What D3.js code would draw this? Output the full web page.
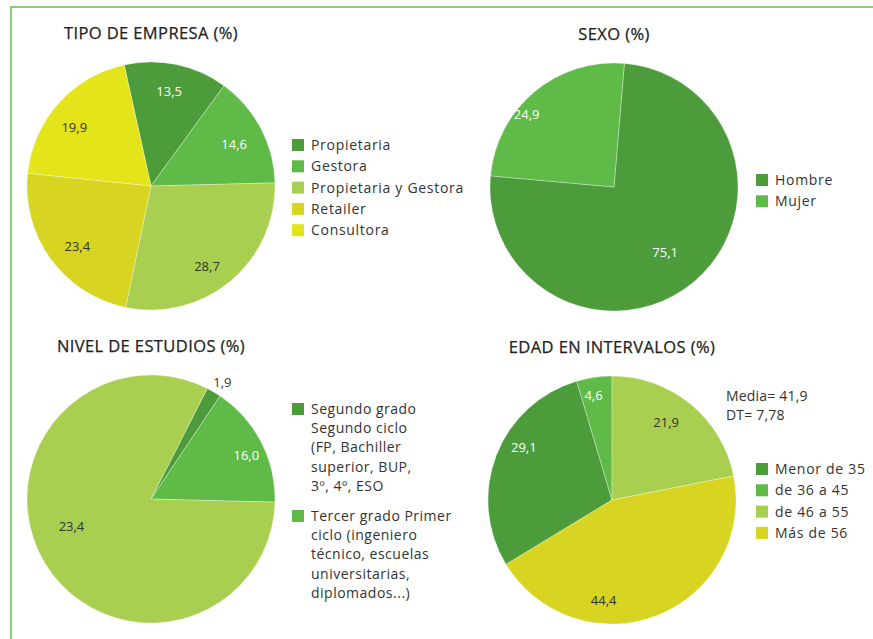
<!DOCTYPE html>
<html lang="es">
<head>
<meta charset="utf-8">
<script src="https://cdn.jsdelivr.net/npm/d3@7"></script>
<style>
  html, body { margin: 0; padding: 0; background: #fff; }
  svg { display: block; font-family: "Open Sans", Roboto, sans-serif; }
</style>
</head>
<body>
<svg id="chart" width="873" height="639"></svg>
<script>
// ---- Data ----
const empresaCategories = ["Propietaria", "Gestora", "Propietaria y Gestora", "Retailer", "Consultora"];
const empresaValues = [13.5, 14.6, 28.7, 23.4, 19.9];

const sexoCategories = ["Hombre", "Mujer"];
const sexoValues = [75.1, 24.9];

const estudiosCategories = [
  "Segundo grado Segundo ciclo (FP, Bachiller superior, BUP, 3º, 4º, ESO",
  "Tercer grado Primer ciclo (ingeniero técnico, escuelas universitarias, diplomados...)",
  null
];
const estudiosValues = [1.9, 16.0, 82.1];
const estudiosPrinted = ["1,9", "16,0", "23,4"];

const edadCategories = ["Menor de 35", "de 36 a 45", "de 46 a 55", "Más de 56"];
const edadValues = [29.1, 4.6, 21.9, 44.4];
const edadStats = ["Media= 41,9", "DT= 7,78"];

const titles = ["TIPO DE EMPRESA (%)", "SEXO (%)", "NIVEL DE ESTUDIOS (%)", "EDAD EN INTERVALOS (%)"];

// ---- Palette ----
const C = {
  dark: "#4c9c3b",
  mid: "#5fba47",
  light: "#a8cf50",
  olive: "#d7d422",
  yellow: "#e3e419",
  text: "#333333",
  frame: "#86cf72"
};

const fmt = v => d3.format(".1f")(v).replace(".", ",");

const svg = d3.select("#chart");

// frame lines
svg.append("line").attr("x1", 11).attr("x2", 11).attr("y1", 7).attr("y2", 639)
  .attr("stroke", C.frame).attr("stroke-width", 2);
svg.append("line").attr("x1", 10).attr("x2", 873).attr("y1", 7).attr("y2", 7)
  .attr("stroke", C.frame).attr("stroke-width", 2);

const R = 124;

// label placement per slice: radius and angular nudge (degrees)
const charts = [
  {
    title: titles[0], cx: 151, cy: 186, start: -12.5,
    values: empresaValues, cats: empresaCategories,
    colors: [C.dark, C.mid, C.light, C.olive, C.yellow],
    labelText: empresaValues.map(fmt),
    labelColor: ["#fff", "#fff", C.text, C.text, C.text],
    labelPos: [[97, -1], [93, 1], [98, 5], [95, -3], [97, -4]],
    legend: { x: 292, y: 145, step: 21.3 }
  },
  {
    title: titles[1], cx: 614, cy: 187, start: 4.8,
    values: sexoValues, cats: sexoCategories,
    colors: [C.dark, C.mid],
    labelText: sexoValues.map(fmt),
    labelColor: ["#fff", "#fff"],
    labelPos: [[83, 2], [114, -10]],
    legend: { x: 756, y: 180, step: 21.3 }
  },
  {
    title: titles[2], cx: 151, cy: 499, start: 27,
    values: estudiosValues, cats: estudiosCategories,
    colors: [C.dark, C.mid, C.light],
    labelText: estudiosPrinted,
    labelColor: [C.text, "#fff", C.text],
    labelPos: [[137, 1], [105, 2.5], [84, 12]],
    legend: null
  },
  {
    title: titles[3], cx: 612, cy: 500, start: -121.3,
    values: edadValues, cats: edadCategories,
    colors: [C.dark, C.mid, C.light, C.olive],
    labelText: edadValues.map(fmt),
    labelColor: ["#fff", "#fff", C.text, C.text],
    labelPos: [[103, 10], [107, -1.7], [95, -4.7], [100, 26]],
    legend: { x: 756, y: 469, step: 21.3 }
  }
];

const rad = d => d * Math.PI / 180;

charts.forEach(ch => {
  const g = svg.append("g").attr("transform", `translate(${ch.cx},${ch.cy})`);
  const pie = d3.pie().sort(null).value(d => d)
    .startAngle(rad(ch.start)).endAngle(rad(ch.start) + 2 * Math.PI);
  const arcs = pie(ch.values);
  const arc = d3.arc().innerRadius(0).outerRadius(R);

  g.selectAll("path.slice").data(arcs).join("path")
    .attr("class", "slice")
    .attr("d", arc)
    .attr("fill", (d, i) => ch.colors[i])
    .attr("stroke", "rgba(255,255,255,0.45)")
    .attr("stroke-width", 0.7);

  g.selectAll("text.val").data(arcs).join("text")
    .attr("class", "val")
    .attr("transform", (d, i) => {
      const [r, da] = ch.labelPos[i];
      const a = (d.startAngle + d.endAngle) / 2 + rad(da);
      return `translate(${r * Math.sin(a)},${-r * Math.cos(a)})`;
    })
    .attr("text-anchor", "middle")
    .attr("dominant-baseline", "central")
    .attr("font-size", 13)
    .attr("fill", (d, i) => ch.labelColor[i])
    .text((d, i) => ch.labelText[i]);

  svg.append("text")
    .attr("x", ch.cx).attr("y", ch.cy - 147)
    .attr("text-anchor", "middle")
    .attr("font-size", 16.5)
    .attr("font-weight", 400)
    .attr("letter-spacing", 0.4)
    .attr("stroke", "#222")
    .attr("stroke-width", 0.25)
    .attr("fill", "#222")
    .text(ch.title);

  if (ch.legend) {
    const lg = svg.append("g");
    ch.cats.forEach((c, i) => {
      const y = ch.legend.y + i * ch.legend.step;
      lg.append("rect").attr("x", ch.legend.x).attr("y", y - 6)
        .attr("width", 12).attr("height", 12).attr("fill", ch.colors[i]);
      lg.append("text").attr("x", ch.legend.x + 19).attr("y", y + 5)
        .attr("font-size", 14).attr("letter-spacing", 0.7)
        .attr("fill", C.text).text(c);
    });
  }
});

// wrapped legend for the studies chart
const studiesLines = [
  ["Segundo grado", "Segundo ciclo", "(FP, Bachiller", "superior, BUP,", "3º, 4º, ESO"],
  ["Tercer grado Primer", "ciclo (ingeniero", "técnico, escuelas", "universitarias,", "diplomados...)"]
];
const studiesTop = [409, 516];
studiesLines.forEach((lines, i) => {
  svg.append("rect").attr("x", 292).attr("y", studiesTop[i] - 6)
    .attr("width", 12).attr("height", 12).attr("fill", charts[2].colors[i]);
  const t = svg.append("text").attr("font-size", 14).attr("letter-spacing", 0.5)
    .attr("fill", C.text);
  lines.forEach((ln, j) => {
    t.append("tspan").attr("x", 311).attr("y", studiesTop[i] + 5 + j * 19.2).text(ln);
  });
});

// summary statistics for the age chart
edadStats.forEach((s, i) => {
  svg.append("text").attr("x", 726).attr("y", 401 + i * 18.5)
    .attr("font-size", 14).attr("letter-spacing", 0.2)
    .attr("fill", C.text).text(s);
});
</script>
</body>
</html>
